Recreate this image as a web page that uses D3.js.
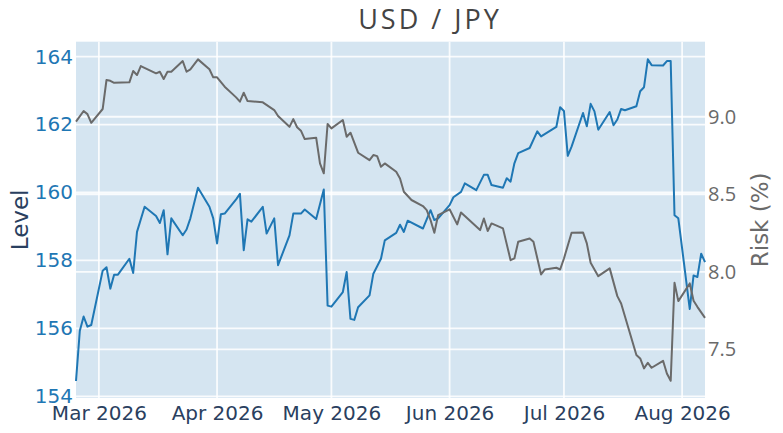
<!DOCTYPE html>
<html>
<head>
<meta charset="utf-8">
<script src="https://cdn.jsdelivr.net/npm/d3@7"></script>
<style>
  html, body { margin: 0; padding: 0; background: #fff; }
  svg { display: block; }
</style>
</head>
<body>
<svg id="chart" width="783" height="433"></svg>
<script>
// ---------- data ----------
const titleText = "USD / JPY";
const leftAxisTitle = "Level";
const rightAxisTitle = "Risk (%)";

const levelDates = ["2026-02-23","2026-02-24","2026-02-25","2026-02-26","2026-02-27","2026-03-02","2026-03-03","2026-03-04","2026-03-05","2026-03-06","2026-03-09","2026-03-10","2026-03-11","2026-03-13","2026-03-16","2026-03-17","2026-03-18","2026-03-19","2026-03-20","2026-03-23","2026-03-24","2026-03-25","2026-03-27","2026-03-30","2026-03-31","2026-04-01","2026-04-02","2026-04-03","2026-04-06","2026-04-07","2026-04-08","2026-04-09","2026-04-10","2026-04-13","2026-04-14","2026-04-16","2026-04-17","2026-04-20","2026-04-21","2026-04-23","2026-04-24","2026-04-27","2026-04-29","2026-04-30","2026-05-01","2026-05-04","2026-05-05","2026-05-06","2026-05-07","2026-05-08","2026-05-11","2026-05-12","2026-05-14","2026-05-15","2026-05-18","2026-05-19","2026-05-20","2026-05-21","2026-05-25","2026-05-27","2026-05-28","2026-05-29","2026-06-01","2026-06-02","2026-06-04","2026-06-05","2026-06-08","2026-06-10","2026-06-11","2026-06-12","2026-06-15","2026-06-16","2026-06-17","2026-06-18","2026-06-19","2026-06-22","2026-06-24","2026-06-25","2026-06-29","2026-06-30","2026-07-01","2026-07-02","2026-07-03","2026-07-06","2026-07-07","2026-07-08","2026-07-09","2026-07-10","2026-07-13","2026-07-14","2026-07-15","2026-07-16","2026-07-17","2026-07-20","2026-07-21","2026-07-22","2026-07-23","2026-07-24","2026-07-27","2026-07-28","2026-07-29","2026-07-30","2026-07-31","2026-08-03","2026-08-04","2026-08-05","2026-08-06","2026-08-07"];
const levelValues = [154.45,155.93,156.35,156.05,156.10,157.70,157.80,157.17,157.58,157.58,158.05,157.63,158.84,159.58,159.31,159.10,159.48,158.18,159.24,158.74,158.91,159.24,160.14,159.58,159.24,158.50,159.36,159.38,159.80,159.96,158.30,159.21,159.14,159.58,158.79,159.24,157.86,158.74,159.38,159.38,159.50,159.22,160.09,156.67,156.64,157.07,157.66,156.28,156.25,156.62,156.97,157.61,158.05,158.59,158.81,159.05,158.84,159.17,158.94,159.48,159.19,159.24,159.63,159.86,160.02,160.27,160.07,160.52,160.52,160.22,160.14,160.42,160.32,160.86,161.16,161.31,161.80,161.65,161.93,162.51,162.40,161.08,161.35,162.34,161.95,162.61,162.39,161.85,162.37,161.98,162.15,162.46,162.42,162.54,162.98,163.10,163.92,163.75,163.74,163.87,163.87,159.33,159.24,156.57,157.56,157.51,158.20,157.95];

const riskDates = ["2026-02-23","2026-02-25","2026-02-26","2026-02-27","2026-03-02","2026-03-03","2026-03-04","2026-03-05","2026-03-09","2026-03-10","2026-03-11","2026-03-12","2026-03-16","2026-03-17","2026-03-18","2026-03-19","2026-03-20","2026-03-23","2026-03-24","2026-03-25","2026-03-27","2026-03-30","2026-03-31","2026-04-01","2026-04-03","2026-04-06","2026-04-07","2026-04-08","2026-04-09","2026-04-13","2026-04-16","2026-04-17","2026-04-20","2026-04-21","2026-04-22","2026-04-23","2026-04-24","2026-04-27","2026-04-28","2026-04-29","2026-04-30","2026-05-01","2026-05-04","2026-05-05","2026-05-06","2026-05-08","2026-05-11","2026-05-12","2026-05-13","2026-05-14","2026-05-15","2026-05-18","2026-05-19","2026-05-20","2026-05-22","2026-05-25","2026-05-26","2026-05-27","2026-05-28","2026-05-29","2026-06-01","2026-06-03","2026-06-04","2026-06-09","2026-06-10","2026-06-11","2026-06-12","2026-06-15","2026-06-17","2026-06-18","2026-06-19","2026-06-22","2026-06-23","2026-06-25","2026-06-26","2026-06-29","2026-06-30","2026-07-01","2026-07-03","2026-07-06","2026-07-07","2026-07-08","2026-07-10","2026-07-13","2026-07-15","2026-07-16","2026-07-20","2026-07-21","2026-07-22","2026-07-23","2026-07-24","2026-07-27","2026-07-28","2026-07-29","2026-07-30","2026-07-31","2026-08-03","2026-08-04","2026-08-05","2026-08-07"];
const riskValues = [8.968,9.037,9.017,8.961,9.050,9.237,9.232,9.219,9.222,9.295,9.269,9.327,9.280,9.290,9.243,9.290,9.290,9.359,9.290,9.306,9.370,9.306,9.254,9.254,9.194,9.125,9.097,9.155,9.101,9.093,9.043,9.005,8.935,8.985,8.932,8.910,8.856,8.865,8.699,8.635,8.953,8.925,8.979,8.871,8.897,8.768,8.720,8.753,8.746,8.677,8.699,8.645,8.602,8.516,8.463,8.424,8.398,8.334,8.252,8.366,8.403,8.306,8.383,8.269,8.344,8.263,8.312,8.280,8.075,8.086,8.194,8.215,8.194,7.983,8.015,8.026,8.015,8.086,8.252,8.254,8.183,8.058,7.972,8.022,7.843,7.796,7.463,7.441,7.377,7.413,7.381,7.426,7.344,7.297,7.929,7.811,7.925,7.813,7.774,7.703];

const xTickDates = ["2026-03-01","2026-04-01","2026-05-01","2026-06-01","2026-07-01","2026-08-01"];
const xTickLabels = ["Mar 2026","Apr 2026","May 2026","Jun 2026","Jul 2026","Aug 2026"];
const leftTicks = [154,156,158,160,162,164];
const rightTicks = [7.5,8.0,8.5,9.0];

// ---------- layout ----------
const W = 783, H = 433;
const m = {left: 76, right: 78, top: 41.7, bottom: 35};
const parse = d3.utcParse("%Y-%m-%d");

const svg = d3.select("#chart");
const x = d3.scaleUtc()
  .domain([parse("2026-02-23"), parse("2026-08-07")])
  .range([m.left, W - m.right]);
const yL = d3.scaleLinear().domain([153.95, 164.44]).range([H - m.bottom, m.top]);
const yR = d3.scaleLinear().domain([7.186, 9.484]).range([H - m.bottom, m.top]);

const tickFont = "DejaVu Sans, Verdana, sans-serif";

// plot background
svg.append("rect")
  .attr("x", m.left).attr("y", m.top)
  .attr("width", W - m.left - m.right).attr("height", H - m.top - m.bottom)
  .attr("fill", "#d5e5f1");

// grid
const grid = svg.append("g").attr("stroke", "#ffffff").attr("stroke-width", 1.8).attr("stroke-opacity", 0.85);
grid.selectAll(".gx").data(xTickDates).join("line")
  .attr("x1", d => x(parse(d))).attr("x2", d => x(parse(d)))
  .attr("y1", m.top).attr("y2", H - m.bottom);
grid.selectAll(".gl").data(leftTicks).join("line")
  .attr("x1", m.left).attr("x2", W - m.right)
  .attr("y1", d => yL(d)).attr("y2", d => yL(d));
grid.selectAll(".gr").data(rightTicks).join("line")
  .attr("x1", m.left).attr("x2", W - m.right)
  .attr("y1", d => yR(d)).attr("y2", d => yR(d));

// lines
const levelData = levelDates.map((d, i) => ({date: parse(d), v: levelValues[i]}));
const riskData = riskDates.map((d, i) => ({date: parse(d), v: riskValues[i]}));

svg.append("path")
  .datum(levelData)
  .attr("fill", "none")
  .attr("stroke", "#1f77b4")
  .attr("stroke-width", 2)
  .attr("stroke-linejoin", "round")
  .attr("d", d3.line().x(d => x(d.date)).y(d => yL(d.v)));

svg.append("path")
  .datum(riskData)
  .attr("fill", "none")
  .attr("stroke", "#6a6a6a")
  .attr("stroke-width", 2)
  .attr("stroke-linejoin", "round")
  .attr("d", d3.line().x(d => x(d.date)).y(d => yR(d.v)));

// axes
const xAxis = d3.axisBottom(x)
  .tickValues(xTickDates.map(parse))
  .tickFormat((d, i) => xTickLabels[i])
  .tickSize(0).tickPadding(8);
const gx = svg.append("g").attr("transform", `translate(0,${H - m.bottom})`).call(xAxis);
gx.select(".domain").remove();
gx.selectAll("text").attr("font-family", tickFont).attr("font-size", 20).attr("fill", "#2a3f5f");

const lAxis = d3.axisLeft(yL).tickValues(leftTicks).tickFormat(d3.format("d")).tickSize(0).tickPadding(3);
const gl = svg.append("g").attr("transform", `translate(${m.left},0)`).call(lAxis);
gl.select(".domain").remove();
gl.selectAll("text").attr("font-family", tickFont).attr("font-size", 20).attr("fill", "#1f77b4");

const rAxis = d3.axisRight(yR).tickValues(rightTicks).tickFormat(d3.format(".1f")).tickSize(0).tickPadding(3);
const gr = svg.append("g").attr("transform", `translate(${W - m.right},0)`).call(rAxis);
gr.select(".domain").remove();
gr.selectAll("text").attr("font-family", "Open Sans, sans-serif").attr("font-size", 20).attr("fill", "#6a6a6a");

// titles
svg.append("text")
  .attr("x", 430).attr("y", 29)
  .attr("text-anchor", "middle")
  .attr("font-family", "Open Sans, sans-serif")
  .attr("font-size", 27)
  .attr("letter-spacing", 3)
  .attr("fill", "#444")
  .text(titleText);

svg.append("text")
  .attr("transform", `translate(28,${(m.top + H - m.bottom) / 2}) rotate(-90)`)
  .attr("text-anchor", "middle")
  .attr("font-family", tickFont)
  .attr("font-size", 23)
  .attr("fill", "#2a3f5f")
  .text(leftAxisTitle);

svg.append("text")
  .attr("transform", `translate(768,${(m.top + H - m.bottom) / 2}) rotate(-90)`)
  .attr("text-anchor", "middle")
  .attr("font-family", tickFont)
  .attr("font-size", 23)
  .attr("fill", "#6a6a6a")
  .text(rightAxisTitle);
</script>
</body>
</html>
